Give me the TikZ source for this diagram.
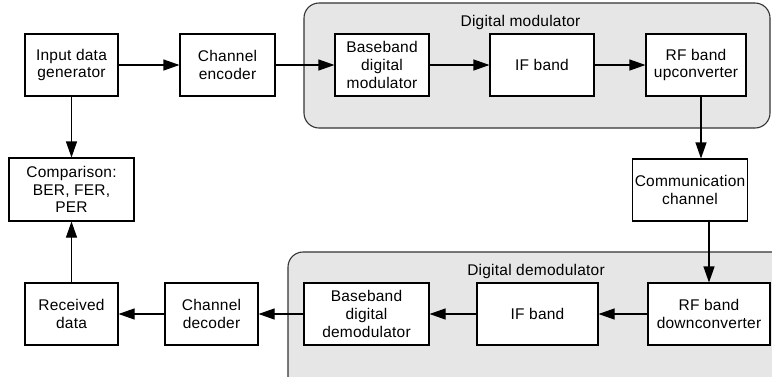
\documentclass[tikz,border=0pt]{standalone}
\usepackage{fontspec}
\setmainfont{Liberation Sans}[LetterSpace=1.5]
\usetikzlibrary{arrows.meta,positioning}
\definecolor{grpfill}{HTML}{E6E6E6}
\begin{document}
\begin{tikzpicture}[x=1pt,y=-1pt,
  txt/.style={font=\fontsize{15.5}{17.6}\selectfont},
  blk/.style={txt,draw=black,line width=1.1pt,fill=white,align=center,inner sep=2pt,minimum height=62pt},
  grp/.style={draw=black!80,line width=1.1pt,fill=grpfill,rounded corners=15pt,inner sep=0pt},
  arr/.style={line width=1.1pt,-{Triangle[length=16pt,width=11pt]}}]
\useasboundingbox (0,0) rectangle (772,376);
\clip (0,0) rectangle (772,376);
% groups
\node[grp,minimum width=466pt,minimum height=125pt] (modgrp) at (537,65.5) {};
\node[grp,minimum width=502pt,minimum height=148pt] (demgrp) at (539,326) {};
\node[txt,anchor=base] (modtitle) at (520.5,26.7) {Digital modulator};
\node[txt,anchor=base] (demtitle) at (536,275) {Digital demodulator};
% blocks
\node[blk,minimum width=93pt] (inp) at (71.5,65) {Input data\\generator};
\node[blk,minimum width=95pt] (enc) at (227.5,65) {Channel\\encoder};
\node[blk,minimum width=94pt] (bbmod) at (382,65) {Baseband\\digital\\modulator};
\node[blk,minimum width=104pt] (ifmod) at (542,65) {IF band};
\node[blk,minimum width=100pt] (rfup) at (696,65) {RF band\\upconverter};
\node[blk,minimum width=114pt] (comm) at (690,190) {Communication\\channel};
\node[blk,minimum width=125pt,minimum height=63pt] (cmp) at (71.5,189.5) {Comparison:\\BER, FER,\\PER};
\node[blk,minimum width=93pt] (rec) at (71.5,314) {Received\\data};
\node[blk,minimum width=93pt] (dec) at (211.5,314) {Channel\\decoder};
\node[blk,minimum width=125pt] (bbdem) at (366.5,314) {Baseband\\digital\\demodulator};
\node[blk,minimum width=121pt] (ifdem) at (537.5,314) {IF band};
\node[blk,minimum width=122pt] (rfdown) at (709,314) {RF band\\downconverter};
% connectors
\draw[arr] (inp) -- (enc);
\draw[arr] (enc) -- (bbmod);
\draw[arr] (bbmod) -- (ifmod);
\draw[arr] (ifmod) -- (rfup);
\draw[arr] ([xshift=5pt]rfup.south) -- ([xshift=5pt]rfup.south |- comm.north);
\draw[arr] (comm.south -| rfdown.north) -- (rfdown.north);
\draw[arr] (rfdown) -- (ifdem);
\draw[arr] (ifdem) -- (bbdem);
\draw[arr] (bbdem) -- (dec);
\draw[arr] (dec) -- (rec);
\draw[arr] (inp) -- (cmp);
\draw[arr] (rec) -- (cmp);
\end{tikzpicture}
\end{document}
